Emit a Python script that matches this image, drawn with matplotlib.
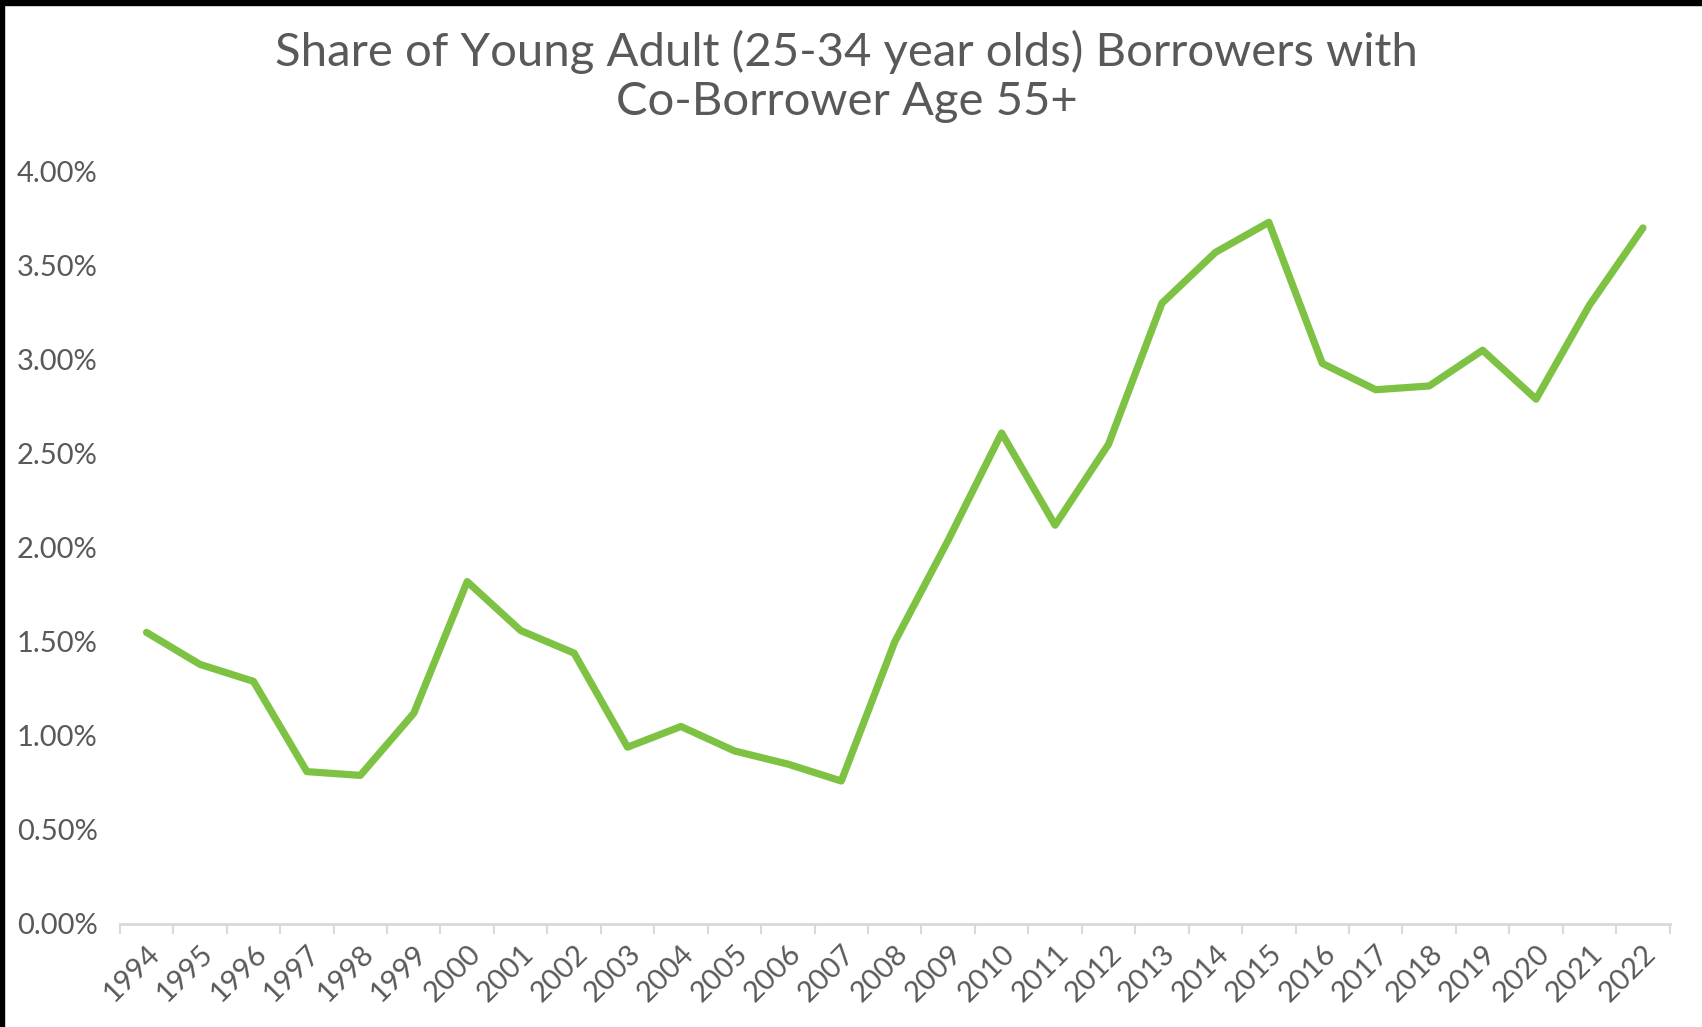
import matplotlib.pyplot as plt
from matplotlib.patches import Rectangle
from matplotlib.ticker import FuncFormatter, MultipleLocator

# data
years = [str(y) for y in range(1994, 2023)]
share = [1.55, 1.38, 1.29, 0.81, 0.79, 1.12, 1.82, 1.56, 1.44, 0.94,
         1.05, 0.92, 0.85, 0.76, 1.50, 2.04, 2.61, 2.12, 2.55, 3.30,
         3.57, 3.73, 2.98, 2.84, 2.86, 3.05, 2.79, 3.29, 3.70]
title_lines = ["Share of Young Adult (25-34 year olds) Borrowers with", "Co-Borrower Age 55+"]

text_grey = "#595959"
axis_grey = "#d9d9d9"
green = "#7dc242"

plt.rcParams['font.family'] = ['Lato', 'DejaVu Sans']

fig = plt.figure(figsize=(17.02, 10.27), dpi=100)
ax = fig.add_axes([0.0704, 0.1003, 0.9106, 0.7327])

x = list(range(len(years)))
ax.plot(x, share, color=green, linewidth=5.2, solid_joinstyle='round', solid_capstyle='round')

ax.set_xlim(-0.5, len(years) - 0.5)
ax.set_ylim(0, 4)
ax.yaxis.set_major_locator(MultipleLocator(0.5))
ax.yaxis.set_major_formatter(FuncFormatter(lambda v, p: f"{v:.2f}%"))

# category boundaries carry the tick marks, labels sit in the middle
ax.set_xticks([i - 0.5 for i in range(len(years) + 1)])
ax.set_xticklabels([])
ax.set_xticks(x, minor=True)
ax.set_xticklabels(years, minor=True, rotation=45, ha='right', rotation_mode='anchor')
ax.tick_params(axis='x', which='major', length=7, width=1.5, color=axis_grey, direction='out')
ax.tick_params(axis='x', which='minor', length=0, pad=12, labelsize=21, labelcolor=text_grey)
ax.tick_params(axis='y', length=0, pad=16, labelsize=21, labelcolor=text_grey)

for side in ['top', 'right', 'left']:
    ax.spines[side].set_visible(False)
ax.spines['bottom'].set_color(axis_grey)
ax.spines['bottom'].set_linewidth(2)

fig.text(0.4975, 0.971, "\n".join(title_lines), ha='center', va='top',
         fontsize=34, color=text_grey, linespacing=1.2)

# black frame remnants along the top and left edges
fig.patches.append(Rectangle((0, 0.9955), 1, 0.0045, transform=fig.transFigure, color='black'))
fig.patches.append(Rectangle((0, 0), 0.0025, 1, transform=fig.transFigure, color='black'))

fig.savefig("out.png", dpi=100)
